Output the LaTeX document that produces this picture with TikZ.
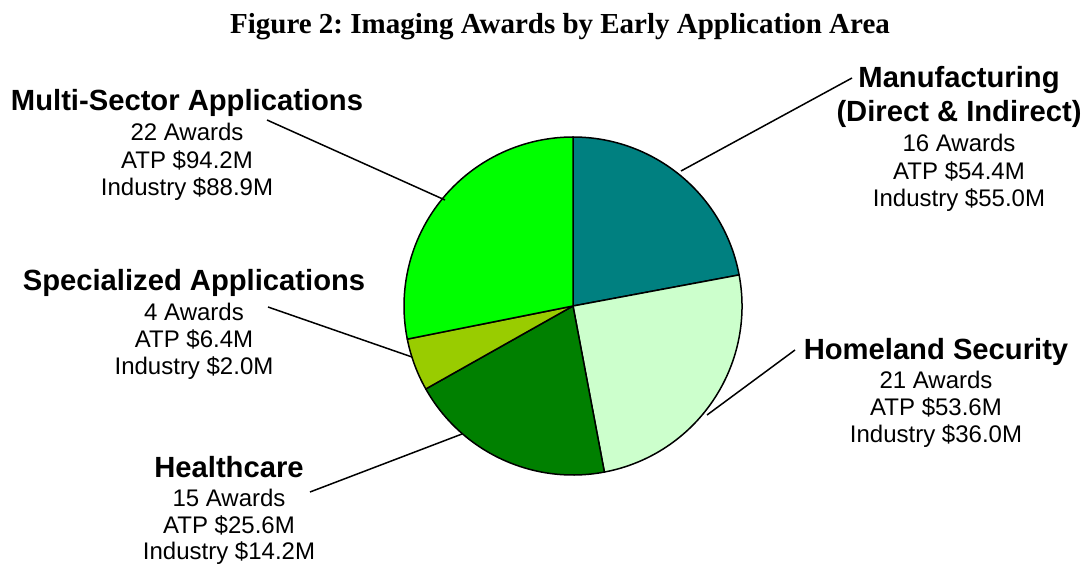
\documentclass[tikz,border=0pt]{standalone}
\usepackage{fontspec}
\newfontfamily\arialf{Liberation Sans}
\newfontfamily\timesf{Liberation Serif}
\frenchspacing
\definecolor{cmfg}{HTML}{008080}
\definecolor{chome}{HTML}{CCFFCC}
\definecolor{chealth}{HTML}{008000}
\definecolor{cspec}{HTML}{99CC00}
\definecolor{cmulti}{HTML}{00FF00}
\tikzset{
  headtxt/.style={font=\arialf\bfseries\fontsize{29.2}{34}\selectfont, anchor=base, inner sep=0pt},
  bodytxt/.style={font=\arialf\fontsize{24}{27}\selectfont, anchor=base, inner sep=0pt},
  titletxt/.style={font=\timesf\bfseries\fontsize{29}{34}\selectfont, anchor=base, inner sep=0pt},
  slice/.style={draw=black, line width=1.5pt, line join=round},
  leader/.style={draw=black, line width=1.5pt}
}
\begin{document}
\begin{tikzpicture}[x=1pt, y=-1pt]
\useasboundingbox (0,0) rectangle (1083,564);
\fill[white] (0,0) rectangle (1083,564);
\node[titletxt] (title) at (560,34) {Figure 2: Imaging Awards by Early Application Area};
% pie
\coordinate (c) at (573,306);
\def\R{169pt}
\path[slice, fill=cmfg] (c) -- ++(90:\R) arc[start angle=90, end angle=10.6, radius=\R] -- cycle;
\path[slice, fill=chome] (c) -- ++(10.6:\R) arc[start angle=10.6, end angle=-79.3, radius=\R] -- cycle;
\path[slice, fill=chealth] (c) -- ++(-79.3:\R) arc[start angle=-79.3, end angle=-150.6, radius=\R] -- cycle;
\path[slice, fill=cspec] (c) -- ++(-150.6:\R) arc[start angle=-150.6, end angle=-168.7, radius=\R] -- cycle;
\path[slice, fill=cmulti] (c) -- ++(-168.7:\R) arc[start angle=-168.7, end angle=-270, radius=\R] -- cycle;
% labels
\node[headtxt] (multiT) at (187,111) {Multi-Sector Applications};
\node[bodytxt] (multi1) at (187,141) {22 Awards};
\node[bodytxt] (multi2) at (187,168) {ATP \$94.2M};
\node[bodytxt] (multi3) at (187,195) {Industry \$88.9M};
\node[headtxt] (specT) at (194,290) {Specialized Applications};
\node[bodytxt] (spec1) at (194,320) {4 Awards};
\node[bodytxt] (spec2) at (194,347) {ATP \$6.4M};
\node[bodytxt] (spec3) at (194,374) {Industry \$2.0M};
\node[headtxt] (healthT) at (229,477) {Healthcare};
\node[bodytxt] (health1) at (229,506) {15 Awards};
\node[bodytxt] (health2) at (229,533) {ATP \$25.6M};
\node[bodytxt] (health3) at (229,559) {Industry \$14.2M};
\node[headtxt] (mfgT) at (959,88) {Manufacturing};
\node[headtxt] (mfgT2) at (959,122) {(Direct \& Indirect)};
\node[bodytxt] (mfg1) at (959,152) {16 Awards};
\node[bodytxt] (mfg2) at (959,179) {ATP \$54.4M};
\node[bodytxt] (mfg3) at (959,206) {Industry \$55.0M};
\node[headtxt] (homeT) at (936,359) {Homeland Security};
\node[bodytxt] (home1) at (936,388) {21 Awards};
\node[bodytxt] (home2) at (936,415) {ATP \$53.6M};
\node[bodytxt] (home3) at (936,442) {Industry \$36.0M};
% leaders
\coordinate (multiA) at (267,120); \coordinate (multiB) at (445,200);
\coordinate (specA) at (268,307); \coordinate (specB) at (412,357);
\coordinate (healthA) at (310,492); \coordinate (healthB) at (462,434);
\coordinate (mfgA) at (852,78); \coordinate (mfgB) at (681,171);
\coordinate (homeA) at (795,350); \coordinate (homeB) at (707,415);
\draw[leader] (multiA) -- (multiB);
\draw[leader] (specA) -- (specB);
\draw[leader] (healthA) -- (healthB);
\draw[leader] (mfgA) -- (mfgB);
\draw[leader] (homeA) -- (homeB);
\end{tikzpicture}
\end{document}
